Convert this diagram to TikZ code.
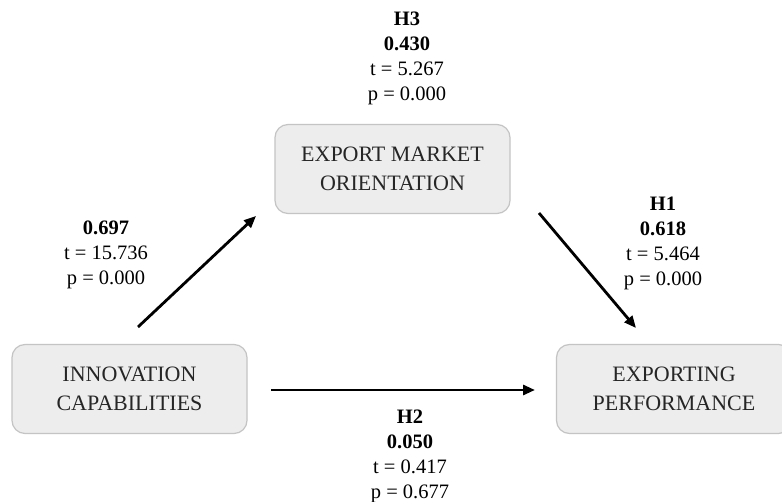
\documentclass[tikz,border=0pt]{standalone}
\usepackage{fontspec}
\setmainfont{Liberation Serif}
\usetikzlibrary{arrows.meta}
\definecolor{boxfill}{HTML}{EDEDED}
\definecolor{boxline}{HTML}{C4C4C4}
\definecolor{txt}{HTML}{262626}
\tikzset{
  varbox/.style={draw=boxline, line width=1.2pt, fill=boxfill, rounded corners=13pt,
    minimum width=235pt, minimum height=89pt, align=center, text=txt,
    font=\fontsize{22}{28.5}\selectfont, inner sep=0pt},
  lbl/.style={align=center, text=black, font=\fontsize{20.5}{25}\selectfont, inner sep=0pt},
  path/.style={line width=2.8pt, -{Triangle[length=12pt,width=10pt]}}
}
\begin{document}
\begin{tikzpicture}[x=1pt,y=-1pt]
\clip (0,0) rectangle (782,502);
\fill[white] (0,0) rectangle (782,502);
\node[varbox] (emo) at (392.5,169) {EXPORT MARKET\\ORIENTATION};
\node[varbox] (ic) at (129.5,389) {INNOVATION\\CAPABILITIES};
\node[varbox] (ep) at (674,389) {EXPORTING\\PERFORMANCE};
\coordinate (a1s) at (138,327);
\coordinate (a1e) at (256,216);
\coordinate (a2s) at (539,213);
\coordinate (a2e) at (636,328);
\coordinate (a3s) at (271,390);
\coordinate (a3e) at (535,390);
\draw[path] (a1s) -- (a1e);
\draw[path] (a2s) -- (a2e);
\draw[path] (a3s) -- (a3e);
\node[lbl] (l3) at (407,58) {\textbf{H3}\\\textbf{0.430}\\t = 5.267\\p = 0.000};
\node[lbl] (l0) at (106,255) {\textbf{0.697}\\t = 15.736\\p = 0.000};
\node[lbl] (l1) at (663,243) {\textbf{H1}\\\textbf{0.618}\\t = 5.464\\p = 0.000};
\node[lbl] (l2) at (410,456) {\textbf{H2}\\\textbf{0.050}\\t = 0.417\\p = 0.677};
\end{tikzpicture}
\end{document}
